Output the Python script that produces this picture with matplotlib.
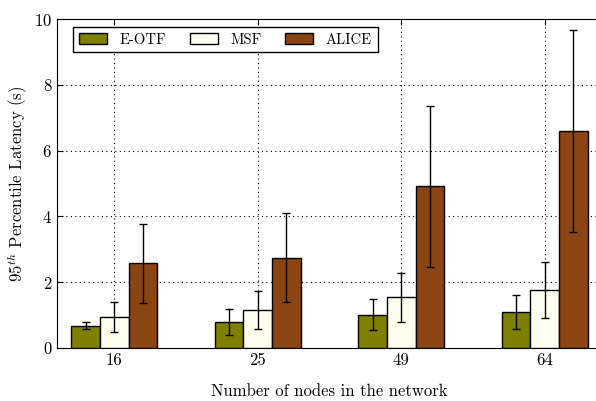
import numpy as np
import matplotlib
matplotlib.use("Agg")
import matplotlib.pyplot as plt

plt.rcParams["font.family"] = "cmr10"
plt.rcParams["mathtext.fontset"] = "cm"
plt.rcParams["axes.formatter.use_mathtext"] = True

nodes = ["16", "25", "49", "64"]
series = ["E-OTF", "MSF", "ALICE"]
colors = ["#808000", "#FFFFF0", "#8B4513"]

eotf_mean = [0.68, 0.80, 1.01, 1.09]
eotf_err = [0.10, 0.40, 0.47, 0.51]
msf_mean = [0.94, 1.15, 1.54, 1.75]
msf_err = [0.46, 0.58, 0.74, 0.85]
alice_mean = [2.57, 2.75, 4.91, 6.60]
alice_err = [1.19, 1.34, 2.45, 3.08]

means = [eotf_mean, msf_mean, alice_mean]
errs = [eotf_err, msf_err, alice_err]

fig = plt.figure(figsize=(5.96, 4.01), dpi=100)
ax = fig.add_axes([57 / 596, 53 / 401, 545 / 596, 329 / 401])

x = np.arange(len(nodes))
width = 0.2
for i, name in enumerate(series):
    ax.bar(x + (i - 1) * width, means[i], width, color=colors[i],
           edgecolor="black", linewidth=1.0, label=name, zorder=3,
           yerr=errs[i], capsize=3,
           error_kw=dict(ecolor="black", elinewidth=1.0, capthick=1.0, zorder=4))

ax.set_xlim(-0.40, 3.40)
ax.set_ylim(0, 10)
ax.set_xticks(x)
ax.set_xticklabels(nodes)
ax.set_yticks([0, 2, 4, 6, 8, 10])
ax.tick_params(direction="in", top=True, right=True, labelsize=12, length=4)
ax.grid(True, linestyle=(0, (1, 3)), color="black", linewidth=0.8, zorder=0)
ax.set_axisbelow(True)

ax.set_xlabel("Number of nodes in the network", fontsize=12, labelpad=11)
ax.set_ylabel(r"95$^{th}$ Percentile Latency (s)", fontsize=12, labelpad=3)

leg = ax.legend(loc="upper left", bbox_to_anchor=(16 / 545, 1 - 8 / 329),
                borderaxespad=0, ncol=3, fontsize=10.5, fancybox=False,
                edgecolor="black", framealpha=1,
                handlelength=1.95, handleheight=0.7, handletextpad=0.85,
                columnspacing=1.6, borderpad=0.4)
leg.get_frame().set_linewidth(1.0)

fig.savefig("out.png", dpi=100)
